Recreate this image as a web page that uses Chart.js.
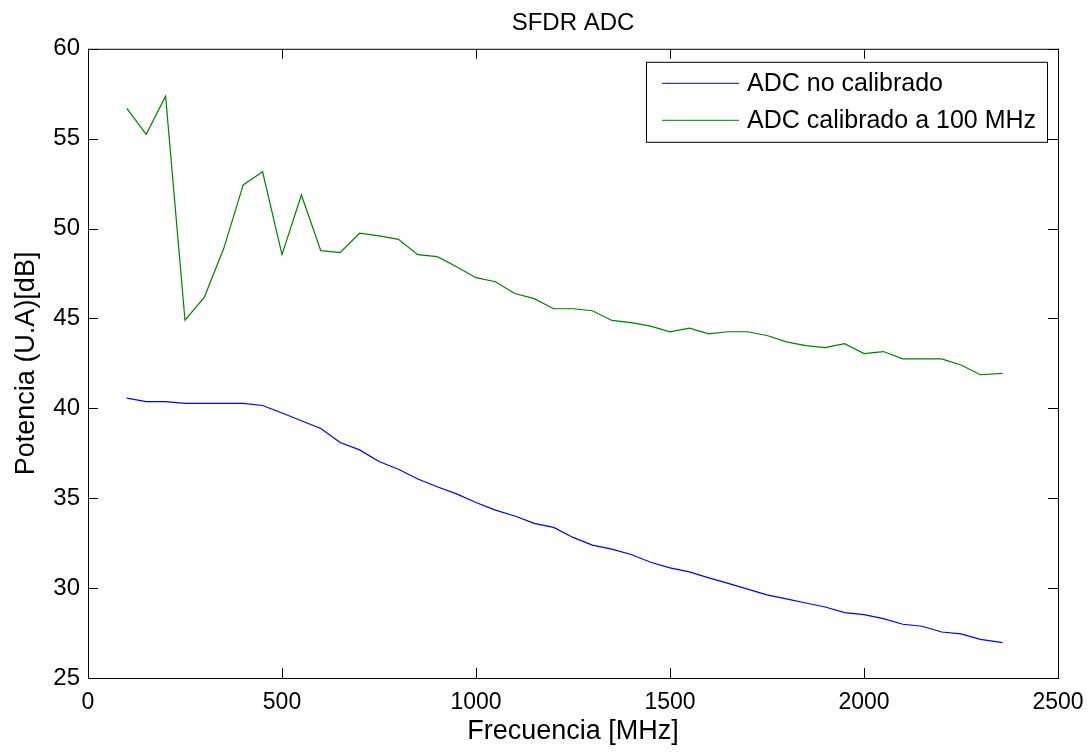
<!DOCTYPE html>
<html lang="es">
<head>
    <meta charset="UTF-8">
    <title>SFDR ADC</title>
    <script src="https://cdn.jsdelivr.net/npm/chart.js"></script>
    <style>
        html, body {
            margin: 0;
            padding: 0;
            background: #fff;
        }
        #wrap {
            width: 1089px;
            height: 752px;
        }
    </style>
</head>
<body>
    <div id="wrap"><canvas id="sfdr" width="1089" height="752"></canvas></div>

    <script>
        // frecuencias de medida [MHz]
        const freqs = [100, 150, 200, 250, 300, 350, 400, 450, 500, 550, 600, 650, 700, 750, 800, 850, 900, 950,
            1000, 1050, 1100, 1150, 1200, 1250, 1300, 1350, 1400, 1450, 1500, 1550, 1600, 1650, 1700, 1750, 1800,
            1850, 1900, 1950, 2000, 2050, 2100, 2150, 2200, 2250, 2300, 2357];

        const noCalibrado = [40.57, 40.37, 40.37, 40.28, 40.28, 40.28, 40.28, 40.16, 39.74, 39.31, 38.88, 38.10,
            37.69, 37.04, 36.61, 36.07, 35.64, 35.24, 34.76, 34.34, 34.01, 33.60, 33.38, 32.82, 32.39, 32.17, 31.87,
            31.44, 31.13, 30.90, 30.57, 30.26, 29.94, 29.62, 29.40, 29.17, 28.95, 28.64, 28.53, 28.30, 27.99, 27.88,
            27.56, 27.45, 27.15, 26.97];

        const calibrado100 = [56.69, 55.24, 57.36, 44.90, 46.19, 48.90, 52.43, 53.16, 48.55, 51.87, 48.77, 48.66,
            49.74, 49.59, 49.40, 48.55, 48.44, 47.88, 47.27, 47.04, 46.39, 46.10, 45.54, 45.54, 45.43, 44.89, 44.77,
            44.57, 44.26, 44.46, 44.14, 44.26, 44.26, 44.05, 43.70, 43.49, 43.38, 43.60, 43.05, 43.16, 42.75, 42.75,
            42.75, 42.41, 41.87, 41.95];

        const xTicks = [0, 500, 1000, 1500, 2000, 2500];
        const yTicks = [25, 30, 35, 40, 45, 50, 55, 60];

        const FONT = 'Arial, "Liberation Sans", sans-serif';

        // marco tipo matlab con marcas hacia dentro + leyenda en recuadro
        const matlabFrame = {
            id: 'matlabFrame',
            afterDatasetsDraw(chart) {
                const {ctx, chartArea: a, scales} = chart;
                const tl = 10;
                ctx.save();
                ctx.strokeStyle = '#000';
                ctx.lineWidth = 1;
                ctx.strokeRect(a.left + 0.5, a.top + 0.5, a.right - a.left, a.bottom - a.top);
                ctx.beginPath();
                xTicks.forEach(v => {
                    const x = Math.round(scales.x.getPixelForValue(v)) + 0.5;
                    ctx.moveTo(x, a.bottom); ctx.lineTo(x, a.bottom - tl);
                    ctx.moveTo(x, a.top); ctx.lineTo(x, a.top + tl);
                });
                yTicks.forEach(v => {
                    const y = Math.round(scales.y.getPixelForValue(v)) + 0.5;
                    ctx.moveTo(a.left, y); ctx.lineTo(a.left + tl, y);
                    ctx.moveTo(a.right, y); ctx.lineTo(a.right - tl, y);
                });
                ctx.stroke();

                // leyenda
                const boxW = 401, boxH = 80;
                const bx = a.right - 11 - boxW, by = a.top + 13;
                ctx.fillStyle = '#fff';
                ctx.fillRect(bx, by, boxW, boxH);
                ctx.strokeRect(bx + 0.5, by + 0.5, boxW, boxH);
                ctx.font = '25px ' + FONT;
                ctx.textBaseline = 'middle';
                ctx.textAlign = 'left';
                chart.data.datasets.forEach((ds, i) => {
                    const ly = by + 21 + i * 37;
                    ctx.strokeStyle = ds.borderColor;
                    ctx.beginPath();
                    ctx.moveTo(bx + 16, ly + 0.5);
                    ctx.lineTo(bx + 93, ly + 0.5);
                    ctx.stroke();
                    ctx.fillStyle = '#000';
                    ctx.fillText(ds.label, bx + 101, ly + 1);
                });
                ctx.restore();
            }
        };

        const toPoints = vals => freqs.map((f, i) => ({x: f, y: vals[i]}));

        new Chart(document.getElementById('sfdr'), {
            type: 'line',
            data: {
                datasets: [{
                    label: 'ADC no calibrado',
                    data: toPoints(noCalibrado),
                    borderColor: '#0000ff',
                    borderWidth: 1.2,
                    pointRadius: 0,
                    tension: 0
                }, {
                    label: 'ADC calibrado a 100 MHz',
                    data: toPoints(calibrado100),
                    borderColor: '#008000',
                    borderWidth: 1.2,
                    pointRadius: 0,
                    tension: 0
                }]
            },
            options: {
                responsive: false,
                animation: false,
                events: [],
                layout: {
                    padding: {left: 0, right: 31, top: 0, bottom: 0}
                },
                plugins: {
                    legend: {display: false},
                    tooltip: {enabled: false},
                    title: {
                        display: true,
                        fullSize: false,
                        text: 'SFDR ADC',
                        color: '#000',
                        font: {family: FONT, size: 24, weight: 'normal', lineHeight: 1.2},
                        padding: {top: 9, bottom: 11}
                    }
                },
                scales: {
                    x: {
                        type: 'linear',
                        min: 0,
                        max: 2500,
                        afterBuildTicks: s => { s.ticks = xTicks.map(v => ({value: v})); },
                        afterFit: s => { s.height = 74; s.paddingRight = 0; },
                        grid: {display: false, drawTicks: false},
                        border: {display: false},
                        ticks: {
                            color: '#000',
                            font: {family: FONT, size: 23},
                            padding: 11,
                            maxRotation: 0,
                            callback: v => String(v)
                        },
                        title: {
                            display: true,
                            text: 'Frecuencia [MHz]',
                            color: '#000',
                            font: {family: FONT, size: 27},
                            padding: {top: 0, bottom: 4}
                        }
                    },
                    y: {
                        min: 25,
                        max: 60,
                        afterBuildTicks: s => { s.ticks = yTicks.map(v => ({value: v})); },
                        afterFit: s => { s.width = 88; },
                        grid: {display: false, drawTicks: false},
                        border: {display: false},
                        ticks: {
                            color: '#000',
                            font: {family: FONT, size: 24},
                            padding: 8,
                            callback: v => String(v)
                        },
                        title: {
                            display: true,
                            text: 'Potencia (U.A)[dB]',
                            color: '#000',
                            font: {family: FONT, size: 27},
                            padding: {top: 10, bottom: 0}
                        }
                    }
                }
            },
            plugins: [matlabFrame]
        });
    </script>
</body>
</html>
